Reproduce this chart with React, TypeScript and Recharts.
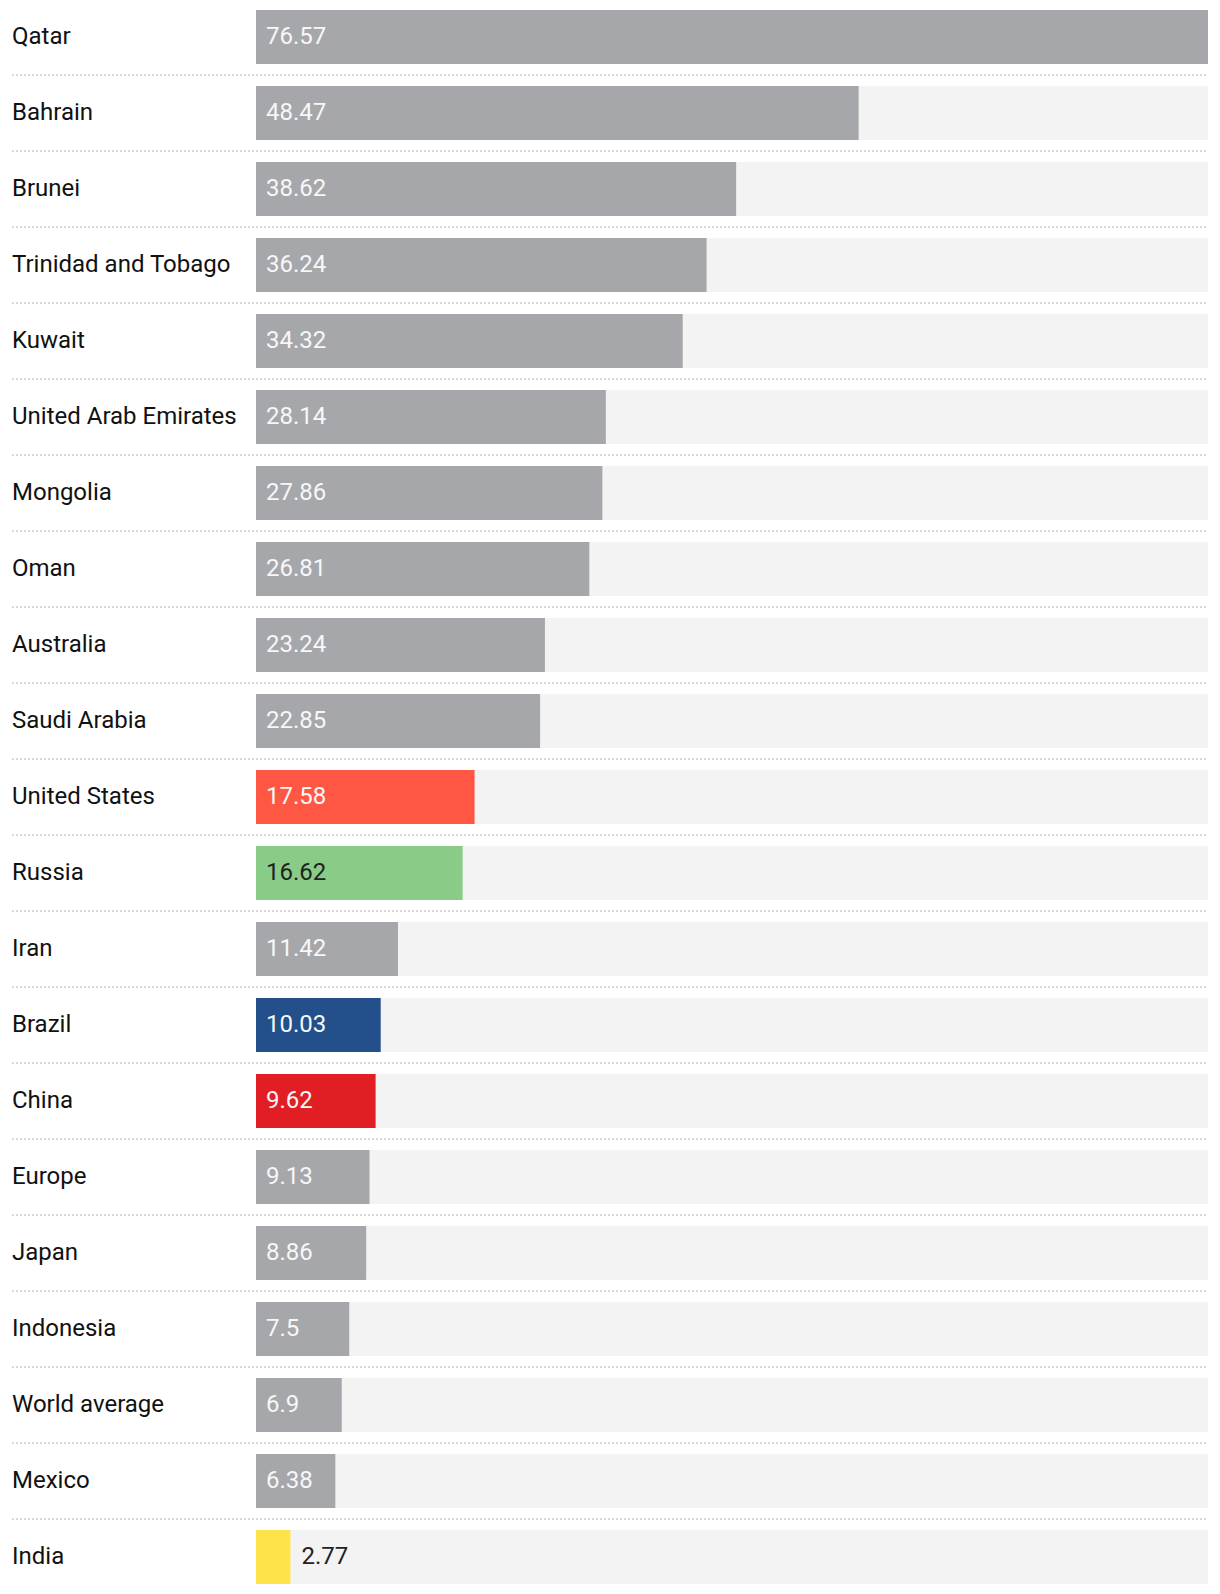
import { Bar, BarChart, Cell, LabelList, XAxis, YAxis } from "recharts";

const countries = [
  "Qatar",
  "Bahrain",
  "Brunei",
  "Trinidad and Tobago",
  "Kuwait",
  "United Arab Emirates",
  "Mongolia",
  "Oman",
  "Australia",
  "Saudi Arabia",
  "United States",
  "Russia",
  "Iran",
  "Brazil",
  "China",
  "Europe",
  "Japan",
  "Indonesia",
  "World average",
  "Mexico",
  "India",
];

const values = [
  76.57, 48.47, 38.62, 36.24, 34.32, 28.14, 27.86, 26.81, 23.24, 22.85, 17.58,
  16.62, 11.42, 10.03, 9.62, 9.13, 8.86, 7.5, 6.9, 6.38, 2.77,
];

// highlighted bars; everything else is grey
const barColors: Record<string, string> = {
  "United States": "#ff5744",
  Russia: "#89cc88",
  Brazil: "#234f8a",
  China: "#e21e25",
  India: "#ffe34a",
};
const darkLabels = ["Russia", "India"];

const GREY = "#a6a7ab";
const LABEL_X = 12;
const FONT = "Roboto, 'Noto Sans', sans-serif";

const data = countries.map((name, i) => ({ name, value: values[i] }));

function CountryTick({ y, payload }: any) {
  return (
    <text
      x={LABEL_X}
      y={y}
      dy="0.3em"
      textAnchor="start"
      fontFamily={FONT}
      fontSize={24}
      fill="#111"
    >
      {payload.value}
    </text>
  );
}

function RowBackground({ x, y, width, height, index }: any) {
  const lineY = Math.round(y + height + 11);
  const last = index === countries.length - 1;
  return (
    <g>
      <rect x={x} y={y} width={width} height={height} fill="#f3f3f3" />
      {!last && (
        <line
          x1={LABEL_X}
          x2={x + width}
          y1={lineY}
          y2={lineY}
          stroke="#d9d9d9"
          strokeWidth={2}
          strokeDasharray="2 2"
        />
      )}
    </g>
  );
}

function ValueLabel({ x, y, width, height, value, index }: any) {
  const name = countries[index];
  const text = String(value);
  const textW = text.length * 13;
  const outside = width < textW + 20;
  const dark = darkLabels.includes(name);
  return (
    <text
      x={outside ? x + width + 11 : x + 10}
      y={y + height / 2}
      dy="0.3em"
      fontFamily={FONT}
      fontSize={24}
      fill={outside || dark ? "#222" : "#f7f7f7"}
    >
      {text}
    </text>
  );
}

export default function App() {
  return (
    <div style={{ position: "absolute", left: 0, top: 0 }}>
      <BarChart
        width={1220}
        height={1594}
        data={data}
        layout="vertical"
        margin={{ top: -1, right: 12, bottom: -1, left: 0 }}
      >
        <XAxis type="number" domain={[0, "dataMax"]} hide />
        <YAxis
          type="category"
          dataKey="name"
          width={256}
          axisLine={false}
          tickLine={false}
          tick={<CountryTick />}
          interval={0}
        />
        <Bar
          dataKey="value"
          barSize={54}
          background={<RowBackground />}
          isAnimationActive={false}
        >
          {data.map((d) => (
            <Cell key={d.name} fill={barColors[d.name] ?? GREY} />
          ))}
          <LabelList dataKey="value" content={<ValueLabel />} />
        </Bar>
      </BarChart>
    </div>
  );
}
